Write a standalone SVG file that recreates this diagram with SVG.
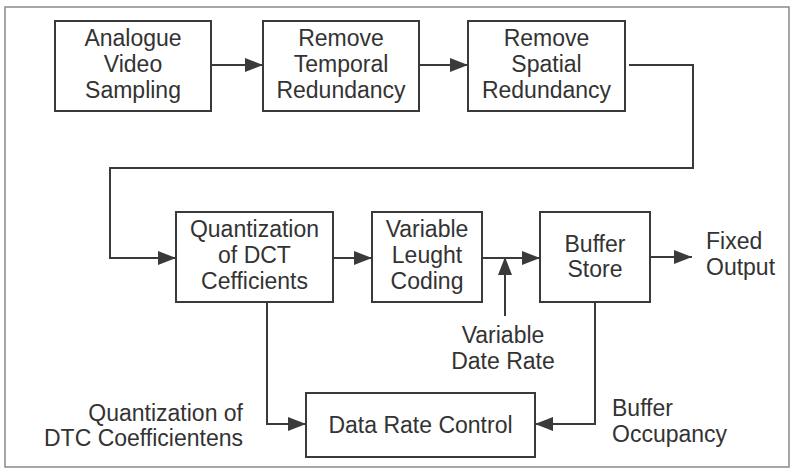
<svg xmlns="http://www.w3.org/2000/svg" width="793" height="471" viewBox="0 0 793 471">
<style>
.box{fill:#fff;stroke:#3a3a3a;stroke-width:2}
.ln{fill:none;stroke:#3a3a3a;stroke-width:2}
.t{font-family:"Liberation Sans",Arial,sans-serif;font-size:23px;fill:#333}
.c{text-anchor:middle}
.r{text-anchor:end}
</style>
<defs>
<marker id="ah" markerUnits="userSpaceOnUse" markerWidth="18" markerHeight="14" refX="18" refY="7" orient="auto">
<path d="M0,0 L18,7 L0,14 z" fill="#3a3a3a"/>
</marker>
</defs>
<rect x="0" y="0" width="793" height="471" fill="#fff"/>
<rect x="5" y="7" width="784" height="460" fill="none" stroke="#8a8a8a" stroke-width="1.5"/>
<g id="n1"><rect class="box" x="55" y="21" width="156" height="90"/>
<text class="t c" x="133" y="46">Analogue</text><text class="t c" x="133" y="72">Video</text><text class="t c" x="133" y="98">Sampling</text></g>
<g id="n2"><rect class="box" x="263" y="21" width="156" height="90"/>
<text class="t c" x="341" y="46">Remove</text><text class="t c" x="341" y="72">Temporal</text><text class="t c" x="341" y="98">Redundancy</text></g>
<g id="n3"><rect class="box" x="468" y="21" width="157" height="90"/>
<text class="t c" x="546.5" y="46">Remove</text><text class="t c" x="546.5" y="72">Spatial</text><text class="t c" x="546.5" y="98">Redundancy</text></g>
<g id="n4"><rect class="box" x="176" y="212" width="157" height="90"/>
<text class="t c" x="254.5" y="237">Quantization</text><text class="t c" x="254.5" y="263">of DCT</text><text class="t c" x="254.5" y="289">Cefficients</text></g>
<g id="n5"><rect class="box" x="372" y="212" width="110" height="90"/>
<text class="t c" x="427" y="237">Variable</text><text class="t c" x="427" y="263">Leught</text><text class="t c" x="427" y="289">Coding</text></g>
<g id="n6"><rect class="box" x="540" y="212" width="110" height="90"/>
<text class="t c" x="595" y="252">Buffer</text><text class="t c" x="595" y="277">Store</text></g>
<g id="n7"><rect class="box" x="306" y="393" width="229" height="64"/>
<text class="t c" x="420.5" y="433">Data Rate Control</text></g>
<g id="labels">
<text class="t" x="706" y="249">Fixed</text><text class="t" x="706" y="275">Output</text>
<text class="t c" x="503" y="343">Variable</text><text class="t c" x="503" y="369">Date Rate</text>
<text class="t" x="612" y="416">Buffer</text><text class="t" x="612" y="442">Occupancy</text>
<text class="t r" x="243" y="421">Quantization of</text><text class="t r" x="243" y="446">DTC Coefficientens</text>
</g>
<g id="connectors">
<line class="ln" x1="211" y1="65" x2="263" y2="65" marker-end="url(#ah)"/>
<line class="ln" x1="419" y1="65" x2="468" y2="65" marker-end="url(#ah)"/>
<polyline class="ln" points="629,65 693,65 693,168 110,168 110,258 176,258" marker-end="url(#ah)"/>
<line class="ln" x1="333" y1="258" x2="372" y2="258" marker-end="url(#ah)"/>
<line class="ln" x1="482" y1="258" x2="540" y2="258" marker-end="url(#ah)"/>
<line class="ln" x1="505" y1="316" x2="505" y2="257" marker-end="url(#ah)"/>
<line class="ln" x1="650" y1="257" x2="692" y2="257" marker-end="url(#ah)"/>
<polyline class="ln" points="267,302 267,424 306,424" marker-end="url(#ah)"/>
<polyline class="ln" points="595,302 595,424 535,424" marker-end="url(#ah)"/>
</g>
</svg>
